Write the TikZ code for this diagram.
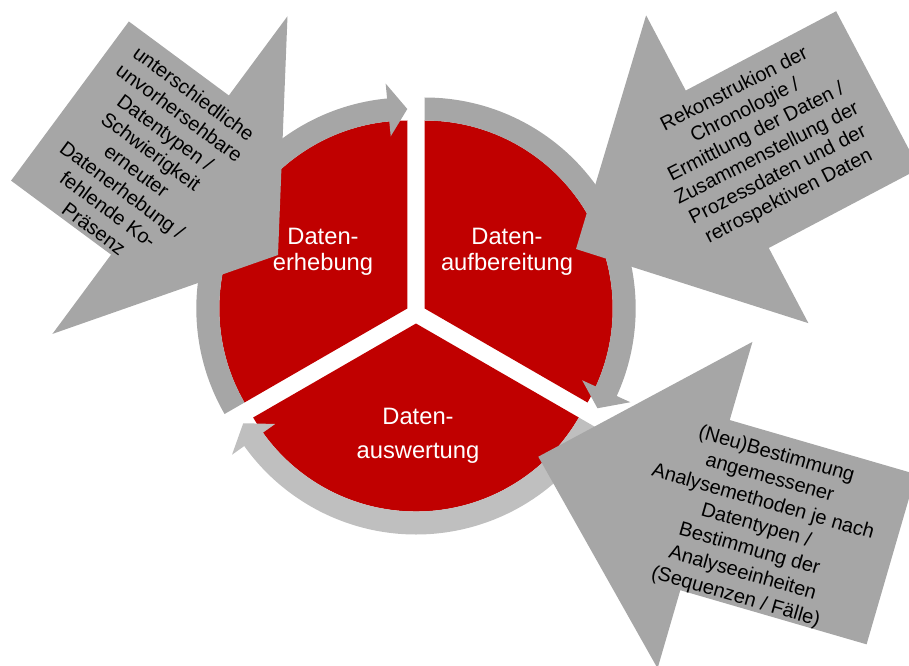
\documentclass[tikz,border=0pt]{standalone}
\usepackage{fontspec}
\setmainfont{Liberation Sans}
\definecolor{dred}{HTML}{C00000}
\definecolor{gdark}{HTML}{A6A6A6}
\definecolor{glight}{HTML}{BFBFBF}
% #1 colour, #2 start angle, #3 barb angle, #4 tip angle
\newcommand{\ringarrow}[4]{%
  \fill[#1] (#2:211) arc[start angle=#2, end angle=#3, radius=211]
    -- (#3:226) -- (#4:199.5) -- (#3:173) -- (#3:188)
    arc[start angle=#3, end angle=#2, radius=188] -- cycle;}
% #1 tip x, #2 tip y, #3 angle, #4 head length, #5 head half width, #6 shaft half width, #7 back x
\newcommand{\bigarrow}[7]{%
  \fill[gdark, shift={(#1,#2)}, rotate=#3] (0,0) -- (-#4,#5) -- (-#4,#6) -- (-#7,#6)
    -- (-#7,-#6) -- (-#4,-#6) -- (-#4,-#5) -- cycle;}
\begin{document}
\begin{tikzpicture}[x=0.75pt,y=0.75pt,
  sectortext/.style={text=white, align=center, inner sep=0pt},
  arrowtext/.style={text=black, align=center, inner sep=0pt, font=\fontsize{15}{18}\selectfont}]
\useasboundingbox (0,0) rectangle (909,665);
\clip (0,0) rectangle (909,665);
% red sectors (exploded pie)
\begin{scope}[shift={(407.3,356.5)}]
  \fill[dred] (0,0) -- (90:188) arc[start angle=90, end angle=210, radius=188] -- cycle;
\end{scope}
\begin{scope}[shift={(424.7,356.5)}]
  \fill[dred] (0,0) -- (-30:188) arc[start angle=-30, end angle=90, radius=188] -- cycle;
\end{scope}
\begin{scope}[shift={(416,341.5)}]
  \fill[dred] (0,0) -- (210:188) arc[start angle=210, end angle=330, radius=188] -- cycle;
\end{scope}
% ring arrows
\begin{scope}[shift={(407.3,356.5)}]
  \ringarrow{gdark}{210}{95.5}{90}
\end{scope}
\begin{scope}[shift={(424.7,356.5)}]
  \ringarrow{gdark}{90}{-24.5}{-30}
\end{scope}
\begin{scope}[shift={(416,341.5)}]
  \ringarrow{glight}{330}{215.5}{210}
\end{scope}
% big callout arrows
\bigarrow{278}{410}{-36.5}{134.4}{197.6}{99}{258.8}
\bigarrow{576}{416}{207.8}{171}{174}{89}{341}
\bigarrow{538.3}{208.3}{163.8}{173.6}{170}{88.6}{367.6}
% sector labels
\node[sectortext, font=\fontsize{17.8}{19.3}\selectfont] (erh) at (323,413) {Daten-\\erhebung};
\node[sectortext, font=\fontsize{17.8}{19.3}\selectfont] (aufb) at (507,413) {Daten-\\aufbereitung};
\node[sectortext, font=\fontsize{17.8}{25.5}\selectfont] (ausw) at (418,229) {Daten-\\auswertung};
% arrow texts
\node[arrowtext, rotate=-36.5] (tl) at (144,504) {unterschiedliche\\unvorhersehbare\\Datentypen /\\Schwierigkeit\\erneuter\\Datenerhebung /\\fehlende Ko-\\Präsenz};
\node[arrowtext, rotate=27] (tr) at (761.7,521.7) {Rekonstrukion der\\Chronologie /\\Ermittlung der Daten /\\Zusammenstellung der\\Prozessdaten und der\\retrospektiven Daten};
\node[arrowtext, rotate=-16, font=\fontsize{15}{18.5}\selectfont] (br) at (756,139) {(Neu)Bestimmung\\angemessener\\Analysemethoden je nach\\Datentypen /\\Bestimmung der\\Analyseeinheiten\\(Sequenzen / Fälle)};
\end{tikzpicture}
\end{document}
